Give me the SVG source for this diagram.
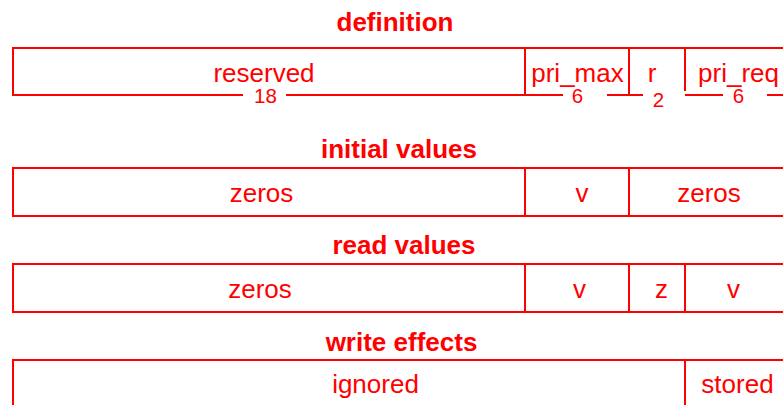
<svg xmlns="http://www.w3.org/2000/svg" width="783" height="405" viewBox="0 0 783 405">
<style>
.ln{stroke:#ff0000;stroke-width:2;fill:none;stroke-linecap:butt}
.t{font-family:"Liberation Sans",Arial,sans-serif;font-size:26px;fill:#ff0000;text-anchor:middle}
.h{font-family:"Liberation Sans",Arial,sans-serif;font-size:26px;font-weight:bold;fill:#ff0000;text-anchor:middle}
.b{font-family:"Liberation Sans",Arial,sans-serif;font-size:20.5px;fill:#ff0000;text-anchor:middle}
</style>
<rect width="783" height="405" fill="#ffffff"/>

<g id="definition">
  <text class="h" x="395" y="31">definition</text>
  <path class="ln" d="M13,48 H783 M13,47 V96 M525,48 V96 M629,48 V96 M685,48 V91"/>
  <path class="ln" d="M12,95 H243 M286,95 H563 M607,95 H643 M685,95 H723 M767,95 H783"/>
  <text class="t" x="264" y="82">reserved</text>
  <text class="t" x="577.5" y="82">pri_max</text>
  <text class="t" x="652" y="82">r</text>
  <text class="t" x="738.5" y="82">pri_req</text>
  <text class="b" x="265.5" y="102.5">18</text>
  <text class="b" x="577.5" y="103">6</text>
  <text class="b" x="658.5" y="107">2</text>
  <text class="b" x="738.5" y="103">6</text>
</g>

<g id="initial-values">
  <text class="h" x="399" y="158">initial values</text>
  <path class="ln" d="M12,168 H783 M12,216 H783 M13,167 V217 M525,168 V216 M629,168 V216"/>
  <text class="t" x="261.5" y="202">zeros</text>
  <text class="t" x="582" y="202">v</text>
  <text class="t" x="709" y="202">zeros</text>
</g>

<g id="read-values">
  <text class="h" x="404" y="254">read values</text>
  <path class="ln" d="M12,264 H783 M12,312 H783 M13,263 V313 M525,264 V312 M629,264 V312 M685,264 V312"/>
  <text class="t" x="260" y="298">zeros</text>
  <text class="t" x="579.5" y="298">v</text>
  <text class="t" x="661.5" y="298">z</text>
  <text class="t" x="733.5" y="298">v</text>
</g>

<g id="write-effects">
  <text class="h" x="401.5" y="351">write effects</text>
  <path class="ln" d="M12,360 H783 M13,359 V405 M685,360 V405"/>
  <text class="t" x="375.5" y="393">ignored</text>
  <text class="t" x="737.5" y="393">stored</text>
</g>
</svg>
